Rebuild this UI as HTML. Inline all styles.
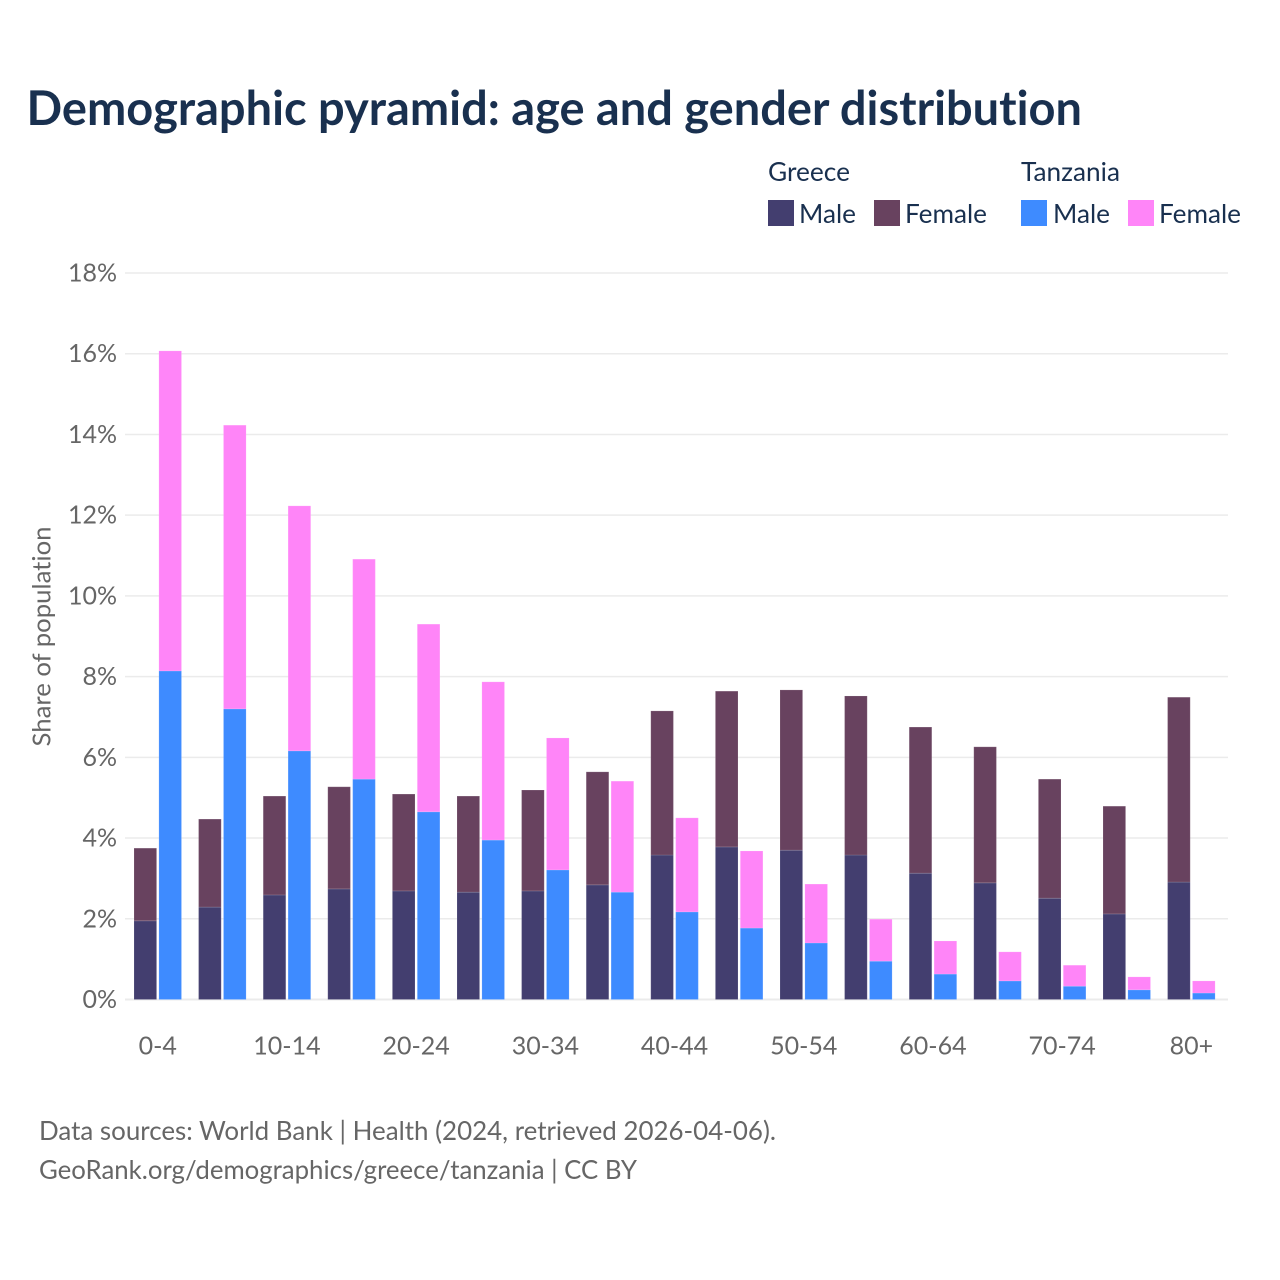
<!DOCTYPE html>
<html lang="en">
<head>
<meta charset="utf-8">
<title>Demographic pyramid: age and gender distribution</title>
<style>
  html, body { margin: 0; padding: 0; background: #fff; }
  svg { display: block; font-family: "Lato", "Carlito", "Liberation Sans", sans-serif; font-variant-ligatures: none; }
</style>
</head>
<body>
<svg id="chart" xmlns="http://www.w3.org/2000/svg" width="1280" height="1280" viewBox="0 0 1280 1280">
  <rect x="0" y="0" width="1280" height="1280" fill="#ffffff"/>
  <text x="26.5" y="125" font-size="48" font-weight="700" fill="#19304f" textLength="1055.5" lengthAdjust="spacingAndGlyphs">Demographic pyramid: age and gender distribution</text>

  <g font-size="26" fill="#19304f">
    <text x="768" y="181" textLength="82" lengthAdjust="spacingAndGlyphs">Greece</text>
    <text x="1021" y="181" textLength="99" lengthAdjust="spacingAndGlyphs">Tanzania</text>
    <rect x="768" y="200" width="26" height="26" fill="#433e6f"/>
    <text x="799" y="223" textLength="57" lengthAdjust="spacingAndGlyphs">Male</text>
    <rect x="874" y="200" width="26" height="26" fill="#68425f"/>
    <text x="905" y="223" textLength="82" lengthAdjust="spacingAndGlyphs">Female</text>
    <rect x="1021" y="200" width="26" height="26" fill="#3e8bff"/>
    <text x="1053" y="223" textLength="57" lengthAdjust="spacingAndGlyphs">Male</text>
    <rect x="1128" y="200" width="26" height="26" fill="#ff85f8"/>
    <text x="1159" y="223" textLength="82" lengthAdjust="spacingAndGlyphs">Female</text>
  </g>

  <g id="grid"></g>
  <g id="bars"></g>
  <g id="yticks"></g>
  <g id="xticks"></g>

  <text transform="translate(50.5,636.5) rotate(-90)" text-anchor="middle" font-size="25" fill="#666666" textLength="220" lengthAdjust="spacingAndGlyphs">Share of population</text>

  <text x="39" y="1140" font-size="26" fill="#666666" textLength="737" lengthAdjust="spacingAndGlyphs">Data sources: World Bank | Health (2024, retrieved 2026-04-06).</text>
  <text x="39" y="1179" font-size="26" fill="#666666" textLength="598" lengthAdjust="spacingAndGlyphs">GeoRank.org/demographics/greece/tanzania | CC BY</text>
</svg>
<script>
const ageGroups = ['0-4','5-9','10-14','15-19','20-24','25-29','30-34','35-39','40-44','45-49','50-54','55-59','60-64','65-69','70-74','75-79','80+'];
const xTickLabels = ['0-4','10-14','20-24','30-34','40-44','50-54','60-64','70-74','80+'];
const yTickValues = [0,2,4,6,8,10,12,14,16,18];
const greeceMale = [1.95,2.29,2.59,2.74,2.69,2.66,2.69,2.84,3.58,3.78,3.70,3.58,3.13,2.89,2.51,2.12,2.91];
const greeceFemale = [1.80,2.18,2.45,2.53,2.40,2.38,2.50,2.80,3.57,3.86,3.97,3.94,3.62,3.37,2.95,2.67,4.58];
const tanzaniaMale = [8.14,7.20,6.16,5.46,4.65,3.95,3.21,2.66,2.17,1.77,1.40,0.95,0.63,0.46,0.33,0.24,0.16];
const tanzaniaFemale = [7.93,7.03,6.07,5.45,4.65,3.92,3.27,2.75,2.33,1.91,1.46,1.04,0.82,0.72,0.52,0.32,0.30];

const NS = 'http://www.w3.org/2000/svg';
const plotLeft = 125, plotRight = 1228, plotBottom = 999.5, plotTop = 273, yMax = 18;
const firstCenter = 157.75, groupStep = 64.6, barWidth = 22.6, barOffset = 12.45;

function yScale(v) { return plotBottom - (v / yMax) * (plotBottom - plotTop); }
function xScale(i) { return firstCenter + i * groupStep; }

const grid = document.getElementById('grid');
const bars = document.getElementById('bars');
const yticks = document.getElementById('yticks');
const xticks = document.getElementById('xticks');

yTickValues.forEach(function (v) {
  const line = document.createElementNS(NS, 'line');
  
  
  line.setAttribute('x1', plotLeft);
  line.setAttribute('x2', plotRight);
  line.setAttribute('y1', yScale(v));
  line.setAttribute('y2', yScale(v));
  line.setAttribute('stroke', '#ebebeb');
  line.setAttribute('stroke-width', v === 0 ? 2 : 1.5);
  grid.appendChild(line);

  const label = document.createElementNS(NS, 'text');
  
  
  label.setAttribute('x', 117);
  label.setAttribute('y', yScale(v) + 8.5);
  label.setAttribute('text-anchor', 'end');
  label.setAttribute('font-size', 25);
  label.setAttribute('fill', '#666666');
  label.textContent = v + '%';
  yticks.appendChild(label);
});

function addBar(x, base, value, fill, name) {
  const rect = document.createElementNS(NS, 'rect');
  
  
  rect.setAttribute('x', x - barWidth / 2);
  rect.setAttribute('y', yScale(base + value));
  rect.setAttribute('width', barWidth);
  rect.setAttribute('height', yScale(base) - yScale(base + value));
  rect.setAttribute('fill', fill);
  rect.setAttribute('stroke', '#ffffff');
  rect.setAttribute('stroke-opacity', '0.12');
  rect.setAttribute('stroke-width', 1);
  bars.appendChild(rect);
}

ageGroups.forEach(function (age, i) {
  const cx = xScale(i);
  addBar(cx - barOffset, 0, greeceMale[i], '#433e6f', 'bar-greece-male-' + age);
  addBar(cx - barOffset, greeceMale[i], greeceFemale[i], '#68425f', 'bar-greece-female-' + age);
  addBar(cx + barOffset, 0, tanzaniaMale[i], '#3e8bff', 'bar-tanzania-male-' + age);
  addBar(cx + barOffset, tanzaniaMale[i], tanzaniaFemale[i], '#ff85f8', 'bar-tanzania-female-' + age);
  if (xTickLabels.indexOf(age) !== -1) {
    const label = document.createElementNS(NS, 'text');
    
    
    label.setAttribute('x', cx);
    label.setAttribute('y', 1054.5);
    label.setAttribute('text-anchor', 'middle');
    label.setAttribute('font-size', 25);
    label.setAttribute('fill', '#666666');
    label.textContent = age;
    xticks.appendChild(label);
  }
});
</script>
</body>
</html>
